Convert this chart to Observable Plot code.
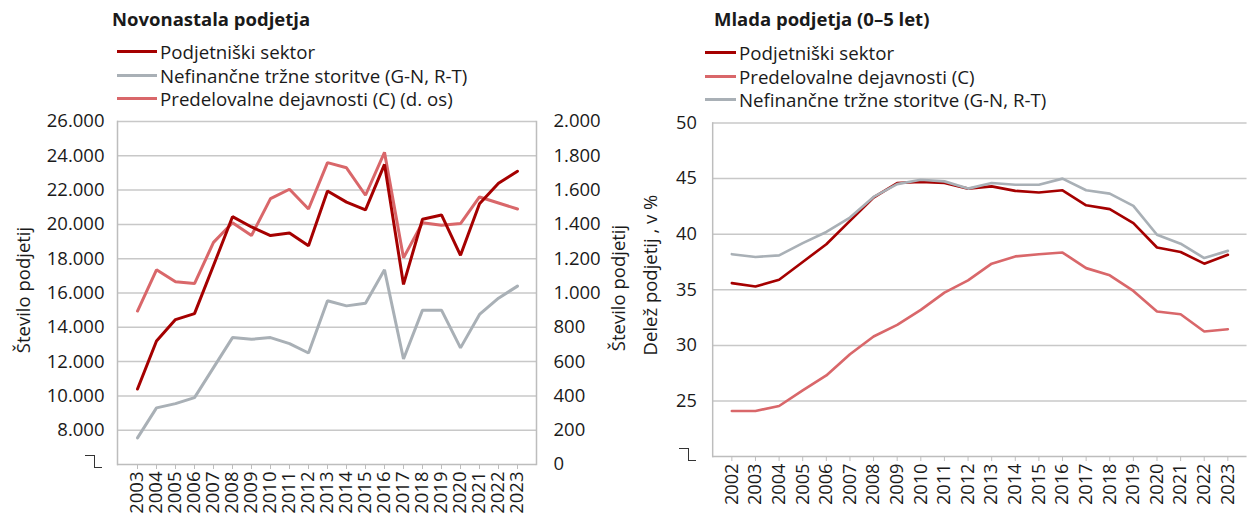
<!DOCTYPE html>
<html><head><meta charset="utf-8">
<script src="https://cdn.jsdelivr.net/npm/d3@7"></script>
<script src="https://cdn.jsdelivr.net/npm/@observablehq/plot@0.6"></script>
<style>
body{margin:0;width:1250px;height:514px;overflow:hidden;background:#fff;font-family:"Open Sans",sans-serif;color:#1a1a1a;position:relative}
.abs{position:absolute}
.title{font-weight:bold;font-size:18.5px;white-space:nowrap}
.leg{font-size:18.7px;display:flex;align-items:center;height:23px;white-space:nowrap;line-height:23px}
.sw{display:inline-block;height:3px;margin-right:3px}
.ylab{font-size:18.5px;white-space:nowrap;transform:translate(-50%,-50%) rotate(-90deg)}
.brk1{border-top:1.5px solid #333;border-right:1.5px solid #333;width:9px;height:12px}
.brk2{border-bottom:1.5px solid #333;width:7px;height:0}
</style></head><body>
<script>
// ---------- data ----------
const yearsL = [2003,2004,2005,2006,2007,2008,2009,2010,2011,2012,2013,2014,2015,2016,2017,2018,2019,2020,2021,2022,2023];
const seriesL = ["Podjetniški sektor","Nefinančne tržne storitve (G-N, R-T)","Predelovalne dejavnosti (C) (d. os)"];
const podjetniskiL = [10400,13200,14450,14800,17600,20450,19850,19350,19500,18750,21950,21300,20850,23500,16500,20300,20550,18200,21200,22400,23100];
const nefinancneL = [7550,9300,9550,9900,11650,13400,13300,13400,13050,12500,15550,15250,15400,17350,12150,15000,15000,12800,14750,15700,16400];
const predelovalneL = [895,1135,1065,1055,1295,1410,1335,1550,1605,1490,1760,1730,1570,1820,1205,1410,1395,1405,1560,1525,1490];
const leftTicks = [8000,10000,12000,14000,16000,18000,20000,22000,24000,26000];
const rightTicks = [0,200,400,600,800,1000,1200,1400,1600,1800,2000];

const yearsR = [2002,2003,2004,2005,2006,2007,2008,2009,2010,2011,2012,2013,2014,2015,2016,2017,2018,2019,2020,2021,2022,2023];
const seriesR = ["Podjetniški sektor","Predelovalne dejavnosti (C)","Nefinančne tržne storitve (G-N, R-T)"];
const podjetniskiR = [35.6,35.3,35.9,37.5,39.1,41.2,43.3,44.6,44.7,44.6,44.1,44.3,43.9,43.75,43.95,42.6,42.25,41.0,38.8,38.4,37.35,38.15];
const predelovalneR = [24.1,24.1,24.55,25.95,27.3,29.2,30.8,31.85,33.2,34.75,35.85,37.35,38.0,38.2,38.35,36.95,36.3,34.9,33.05,32.8,31.25,31.45];
const nefinancneR = [38.2,37.95,38.1,39.2,40.2,41.5,43.35,44.5,44.9,44.75,44.1,44.6,44.45,44.45,45.0,43.95,43.65,42.55,39.95,39.15,37.85,38.5];
const rightChartTicks = [25,30,35,40,45,50];

const colDark = "#a50000", colGray = "#a9b0b6", colPink = "#d9676a";
const font = '"Open Sans", sans-serif';
const fs = 18.5;
const fmt = d3.formatLocale({decimal:",",thousands:".",grouping:[3],currency:["","€"]}).format(",");

// ---------- helpers ----------
function add(html, css){const d=document.createElement("div");d.className="abs";d.innerHTML=html;Object.assign(d.style,css);document.body.appendChild(d);return d;}
function legend(items, x, y, sw){
  items.forEach((it,i)=>add(`<div class="leg"><span class="sw" style="width:${sw}px;background:${it[1]}"></span>${it[0]}</div>`,{left:x+"px",top:(y+i*23.5)+"px"}));
}

// ---------- left chart ----------
add(`<div class="title">Novonastala podjetja</div>`,{left:"112px",top:"6px"});
legend([[seriesL[0],colDark],[seriesL[1],colGray],[seriesL[2],colPink]],117,40,40);

// dual axis: right-axis series mapped onto the left scale (6.000 + 10 × value)
const toLeft = v => 6000 + 10*v;
const dataL = [];
yearsL.forEach((yr,i)=>{
  dataL.push({year:yr,s:seriesL[1],v:nefinancneL[i]});
  dataL.push({year:yr,s:seriesL[2],v:toLeft(predelovalneL[i])});
  dataL.push({year:yr,s:seriesL[0],v:podjetniskiL[i]});
});
const plotL = Plot.plot({
  width:620,height:404,marginTop:11,marginBottom:50,marginLeft:117,marginRight:84,
  style:{fontFamily:font,fontSize:fs+"px",color:"#1a1a1a",background:"transparent",overflow:"visible"},
  x:{type:"point",domain:yearsL,padding:0.5},
  y:{domain:[6000,26000]},
  color:{domain:seriesL,range:[colDark,colGray,colPink]},
  marks:[
    Plot.gridY(leftTicks,{stroke:"#c8c8c8",strokeOpacity:1,strokeWidth:1.5}),
    Plot.ruleY([6000],{stroke:"#bdbdbd",strokeWidth:1.5}),
    Plot.frame({anchor:"left",stroke:"#bdbdbd",strokeWidth:1.5}),
    Plot.frame({anchor:"right",stroke:"#bdbdbd",strokeWidth:1.5}),
    Plot.axisY(leftTicks,{tickSize:0,tickPadding:13,tickFormat:fmt,label:null,fontSize:fs}),
    Plot.axisY(rightTicks.map(toLeft),{anchor:"right",tickSize:0,tickPadding:17,tickFormat:d=>fmt((d-6000)/10),label:null,fontSize:fs}),
    Plot.axisX(yearsL,{tickRotate:-90,tickSize:5,tickPadding:2,label:null,stroke:"#bdbdbd",tickFormat:d=>String(d),fontSize:fs}),
    Plot.line(dataL,{x:"year",y:"v",z:"s",stroke:"s",strokeWidth:3,strokeLinejoin:"miter"})
  ]
});
const wl = add("",{left:"0px",top:"110px"}); wl.appendChild(plotL);
add(`<div class="ylab">Število podjetij</div>`,{left:"22px",top:"290px"});
add(`<div class="ylab">Število podjetij</div>`,{left:"617px",top:"288px"});
add(`<div class="brk1"></div>`,{left:"85px",top:"455px"});
add(`<div class="brk2"></div>`,{left:"95px",top:"467px"});

// ---------- right chart ----------
add(`<div class="title">Mlada podjetja (0–5 let)</div>`,{left:"714px",top:"6px"});
legend([[seriesR[0],colDark],[seriesR[1],colPink],[seriesR[2],colGray]],705,41,31);
const dataR = [];
yearsR.forEach((yr,i)=>{
  dataR.push({year:yr,s:seriesR[1],v:predelovalneR[i]});
  dataR.push({year:yr,s:seriesR[0],v:podjetniskiR[i]});
  dataR.push({year:yr,s:seriesR[2],v:nefinancneR[i]});
});
const plotR = Plot.plot({
  width:630,height:404,marginTop:12.7,marginBottom:52.3,marginLeft:83.5,marginRight:3.5,
  style:{fontFamily:font,fontSize:fs+"px",color:"#1a1a1a",background:"transparent",overflow:"visible"},
  x:{type:"point",domain:yearsR,padding:0.5},
  y:{domain:[20,50]},
  color:{domain:seriesR,range:[colDark,colPink,colGray]},
  marks:[
    Plot.gridY(rightChartTicks,{stroke:"#c8c8c8",strokeOpacity:1,strokeWidth:1.5}),
    Plot.ruleY([20],{stroke:"#bdbdbd",strokeWidth:1.5}),
    Plot.frame({anchor:"left",stroke:"#bdbdbd",strokeWidth:1.5}),
    Plot.axisY(rightChartTicks,{tickSize:0,tickPadding:16,label:null,fontSize:fs}),
    Plot.axisX(yearsR,{tickRotate:-90,tickSize:5,tickPadding:2,label:null,stroke:"#bdbdbd",tickFormat:d=>String(d),fontSize:fs}),
    Plot.line(dataR,{x:"year",y:"v",z:"s",stroke:"s",strokeWidth:2.7,strokeLinejoin:"miter"})
  ]
});
const wr = add("",{left:"630px",top:"110px"}); wr.appendChild(plotR);
add(`<div class="ylab">Delež podjetij , v %</div>`,{left:"649px",top:"275px"});
add(`<div class="brk1"></div>`,{left:"679px",top:"448px"});
add(`<div class="brk2"></div>`,{left:"689px",top:"460px"});
</script>
</body></html>
